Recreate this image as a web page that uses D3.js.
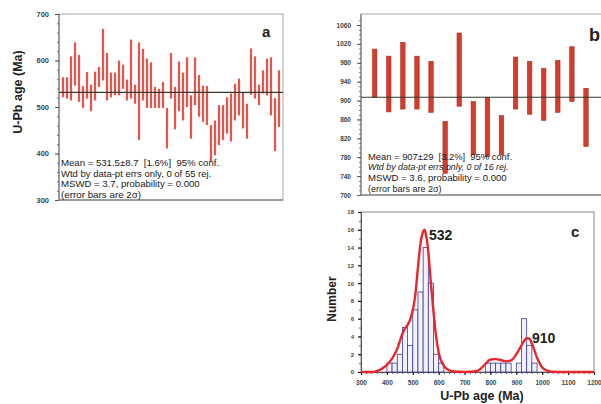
<!DOCTYPE html>
<html>
<head>
<meta charset="utf-8">
<script src="https://cdn.jsdelivr.net/npm/d3@7"></script>
<style>
  body { margin: 0; background: #fff; }
  text { font-family: Arial, "Liberation Sans", sans-serif; white-space: pre; }
</style>
</head>
<body>
<script>
// ---- panel a: 206Pb/238U ages, 2 sigma bar ends (Ma) ----
const aTop = [564, 564, 609, 639, 612, 545, 575, 548, 576, 586, 668, 616, 574, 574, 600, 591, 559, 645, 548, 639,
              625, 604, 596, 543, 539, 554, 498, 616, 543, 598, 574, 607, 525, 607, 569, 546, 545, 461, 471, 504,
              504, 521, 529, 550, 561, 532, 507, 626, 609, 548, 579, 604, 607, 519, 579];
const aBot = [521, 518, 514, 546, 511, 498, 518, 491, 514, 543, 557, 514, 521, 525, 525, 539, 514, 518, 507, 429,
              514, 498, 498, 498, 498, 498, 411, 518, 452, 491, 471, 500, 432, 504, 479, 468, 461, 382, 396, 418,
              429, 443, 426, 471, 482, 454, 432, 526, 518, 504, 529, 525, 482, 405, 457];
const aMean = 531.5;
const aTicks = [300, 400, 500, 600, 700];
const aText = ["Mean = 531.5\u00b18.7  [1.6%]  95% conf.",
               "Wtd by data-pt errs only, 0 of 55 rej.",
               "MSWD = 3.7, probability = 0.000",
               "(error bars are 2\u03c3)"];

// ---- panel b ----
const bTop = [1009, 994, 1023, 994, 983, 856, 1043, 898, 907, 868, 992, 983, 968, 985, 1014, 926];
const bBot = [907, 876, 882, 882, 875, 746, 888, 785, 781, 785, 882, 871, 858, 875, 898, 803];
const bMean = 907;
const bTicks = [700, 740, 780, 820, 860, 900, 940, 980, 1020, 1060];
const bText = ["Mean = 907\u00b129  [3.2%]  95% conf.",
               "Wtd by data-pt errs only, 0 of 16 rej.",
               "MSWD = 3.6, probability = 0.000",
               "(error bars are 2\u03c3)"];

// ---- panel c: histogram (20 Ma bins) + probability curve ----
const binStart = [400, 420, 440, 460, 480, 500, 520, 540, 560, 580, 600, 780, 800, 820, 840, 860, 880, 900, 920, 940, 960];
const binCount = [1, 1, 2, 5, 3, 7, 9, 14, 10, 2, 1, 1, 1, 1, 1, 1, 0, 1, 6, 3, 1];
const curveAge = [300, 340, 360, 380, 400, 420, 440, 460, 470, 480, 490, 500, 510, 520, 530, 540, 545, 550, 560, 570,
                  580, 590, 600, 620, 640, 660, 700, 740, 760, 780, 800, 820, 840, 860, 880, 900, 920, 940, 950, 960,
                  980, 1000, 1020, 1040, 1080, 1200];
const curveDen = [0, 0, 0.1, 0.35, 0.8, 1.5, 2.6, 4.3, 4.9, 5.3, 5.9, 7.0, 8.7, 11.8, 14.5, 15.8, 16.0, 15.6, 13.5, 10.0,
                  6.8, 4.0, 2.2, 0.7, 0.2, 0.05, 0, 0.05, 0.3, 0.9, 1.4, 1.45, 1.35, 1.2, 1.3, 2.0, 3.0, 3.8, 3.75, 3.2,
                  1.6, 0.5, 0.15, 0.03, 0, 0];
const cXTicks = [300, 400, 500, 600, 700, 800, 900, 1000, 1100, 1200];
const cYTicks = [0, 2, 4, 6, 8, 10, 12, 14, 16, 18];
const cPeaks = ["532", "910"];

const svg = d3.select("body").append("svg")
    .attr("width", 601)
    .attr("height", 404);

// draws the ranked-age panel (a or b)
function agePanel(o) {
    const g = svg.append("g");
    const y = d3.scaleLinear().domain(o.dom).range(o.rng);
    const x = d3.scaleLinear().domain([0, o.top.length - 1]).range(o.xr);

    // frame: light top/right, darker axis
    g.append("rect").attr("x", o.box[0]).attr("y", o.box[1])
        .attr("width", o.box[2] - o.box[0]).attr("height", o.box[3] - o.box[1])
        .attr("fill", "none").attr("stroke", "#a8a8a8").attr("stroke-width", 1);

    // minor ticks
    g.append("g").attr("transform", `translate(${o.box[0]},0)`)
        .call(d3.axisLeft(y).tickValues(d3.range(o.dom[0], o.top0, o.minor)).tickSize(2).tickFormat(""))
        .call(a => a.select(".domain").remove())
        .selectAll("line").attr("stroke", "#777");

    const ax = g.append("g").attr("transform", `translate(${o.box[0]},0)`)
        .call(d3.axisLeft(y).tickValues(o.ticks).tickSize(4).tickPadding(6).tickFormat(d3.format("d")));
    ax.select(".domain").attr("d", `M0,${o.box[1]}V${o.box[3]}`).attr("stroke", "#666");
    ax.selectAll("line").attr("stroke", "#555");
    ax.selectAll("text").attr("font-size", o.tickFs).attr("font-weight", "bold").attr("fill", "#444");
    g.append("line").attr("x1", o.box[0]).attr("x2", o.box[2]).attr("y1", o.box[3]).attr("y2", o.box[3])
        .attr("stroke", "#666");

    // error bars
    g.selectAll(".bar").data(o.top).enter().append("rect")
        .attr("x", (d, i) => x(i) - o.bw / 2)
        .attr("y", d => y(d))
        .attr("width", o.bw)
        .attr("height", (d, i) => y(o.bot[i]) - y(d))
        .attr("fill", o.fill)
        .attr("stroke", o.stroke)
        .attr("stroke-width", o.sw);

    // weighted mean
    g.append("line").attr("x1", o.box[0]).attr("x2", o.box[2])
        .attr("y1", y(o.mean)).attr("y2", y(o.mean))
        .attr("stroke", "#2e3a2c").attr("stroke-width", 1.2);

    // stats text
    g.selectAll(".stat").data(o.text).enter().append("text")
        .attr("x", o.tx).attr("y", (d, i) => o.ty[i])
        .attr("font-size", (d, i) => o.tfs[i])
        .attr("font-style", (d, i) => o.italic && i === 1 ? "italic" : "normal")
        .attr("fill", "#1a1a1a")
        .text(d => d);

    g.append("text").attr("x", o.letter[0]).attr("y", o.letter[1])
        .attr("font-family", "'Liberation Serif', 'DejaVu Serif', serif")
        .attr("font-weight", "bold").attr("font-size", o.letter[2]).attr("fill", "#222")
        .text(o.letter[3]);
    return y;
}

agePanel({
    dom: [300, 700], rng: [200, 14], xr: [63, 279], box: [59, 14, 283, 200],
    top: aTop, bot: aBot, mean: aMean, ticks: aTicks, minor: 20, top0: 700, tickFs: 7.5,
    bw: 2.2, fill: "#e8544c", stroke: "#e8544c", sw: 0,
    text: aText, tx: 61, ty: [166, 176.5, 187, 197.5], tfs: [9.6, 9.5, 9.6, 9.8],
    letter: [262, 37, 15, "a"]
});

agePanel({
    dom: [700, 1060], rng: [195, 25], xr: [374.7, 586], box: [361, 14, 603, 195],
    top: bTop, bot: bBot, mean: bMean, ticks: bTicks, minor: 10, top0: 1080, tickFs: 6.5,
    bw: 4.4, fill: "#d63c2c", stroke: "#a82a1e", sw: 0.6,
    text: bText, tx: 368, ty: [160, 169.5, 180.5, 192], tfs: [9.4, 8.9, 9.6, 9.0], italic: true,
    letter: [589, 41, 18, "b"]
});

// y-axis title for the top-left panel
svg.append("text")
    .attr("transform", "translate(22,92) rotate(-90)")
    .attr("text-anchor", "middle").attr("font-size", 12.5).attr("font-weight", "bold").attr("fill", "#222")
    .text("U-Pb age (Ma)");

// ---- panel c ----
const xc = d3.scaleLinear().domain([300, 1200]).range([361, 594]);
const yc = d3.scaleLinear().domain([0, 18]).range([372, 212]);
const gc = svg.append("g");

gc.append("rect").attr("x", 361).attr("y", 212).attr("width", 233).attr("height", 160)
    .attr("fill", "none").attr("stroke", "#888").attr("stroke-width", 1);

// minor ticks
gc.append("g").attr("transform", "translate(0,372)")
    .call(d3.axisBottom(xc).tickValues(d3.range(300, 1201, 20)).tickSize(2).tickFormat(""))
    .call(a => a.select(".domain").remove())
    .selectAll("line").attr("stroke", "#666");
gc.append("g").attr("transform", "translate(361,0)")
    .call(d3.axisLeft(yc).tickValues(d3.range(0, 19, 1)).tickSize(2).tickFormat(""))
    .call(a => a.select(".domain").remove())
    .selectAll("line").attr("stroke", "#666");

const axc = gc.append("g").attr("transform", "translate(0,372)")
    .call(d3.axisBottom(xc).tickValues(cXTicks).tickSize(3).tickPadding(5).tickFormat(d3.format("d")));
axc.select(".domain").attr("stroke", "#555");
axc.selectAll("text").attr("font-size", 6.5).attr("font-weight", "bold").attr("fill", "#444");

const ayc = gc.append("g").attr("transform", "translate(361,0)")
    .call(d3.axisLeft(yc).tickValues(cYTicks).tickSize(3).tickPadding(4));
ayc.select(".domain").attr("stroke", "#555");
ayc.selectAll("text").attr("font-size", 6).attr("font-weight", "bold").attr("fill", "#444");

// histogram
gc.selectAll(".hist").data(binStart).enter().append("rect")
    .attr("x", d => xc(d))
    .attr("y", (d, i) => yc(binCount[i]))
    .attr("width", d => xc(d + 20) - xc(d))
    .attr("height", (d, i) => yc(0) - yc(binCount[i]))
    .attr("fill", "#f1f1fa")
    .attr("stroke", "#3d3b96")
    .attr("stroke-width", 0.8);

// probability density curve
const line = d3.line()
    .x((d, i) => xc(curveAge[i]))
    .y(d => yc(d))
    .curve(d3.curveMonotoneX);
gc.append("path").datum(curveDen)
    .attr("d", line)
    .attr("fill", "none")
    .attr("stroke", "#e8262c")
    .attr("stroke-width", 2.4);

// peak labels
gc.append("text").attr("x", 429).attr("y", 240)
    .attr("font-size", 14).attr("font-weight", "bold").attr("fill", "#222").text(cPeaks[0]);
gc.append("text").attr("x", 532).attr("y", 343)
    .attr("font-size", 14).attr("font-weight", "bold").attr("fill", "#222").text(cPeaks[1]);

gc.append("text").attr("x", 571).attr("y", 237)
    .attr("font-family", "'Liberation Serif', 'DejaVu Serif', serif")
    .attr("font-weight", "bold").attr("font-size", 15).attr("fill", "#222").text("c");

// axis titles
svg.append("text")
    .attr("transform", "translate(336,299) rotate(-90)")
    .attr("text-anchor", "middle").attr("font-size", 12).attr("font-weight", "bold").attr("fill", "#222")
    .text("Number");
svg.append("text")
    .attr("x", 482).attr("y", 400)
    .attr("text-anchor", "middle").attr("font-size", 12.5).attr("font-weight", "bold").attr("fill", "#222")
    .text("U-Pb age (Ma)");
</script>
</body>
</html>
